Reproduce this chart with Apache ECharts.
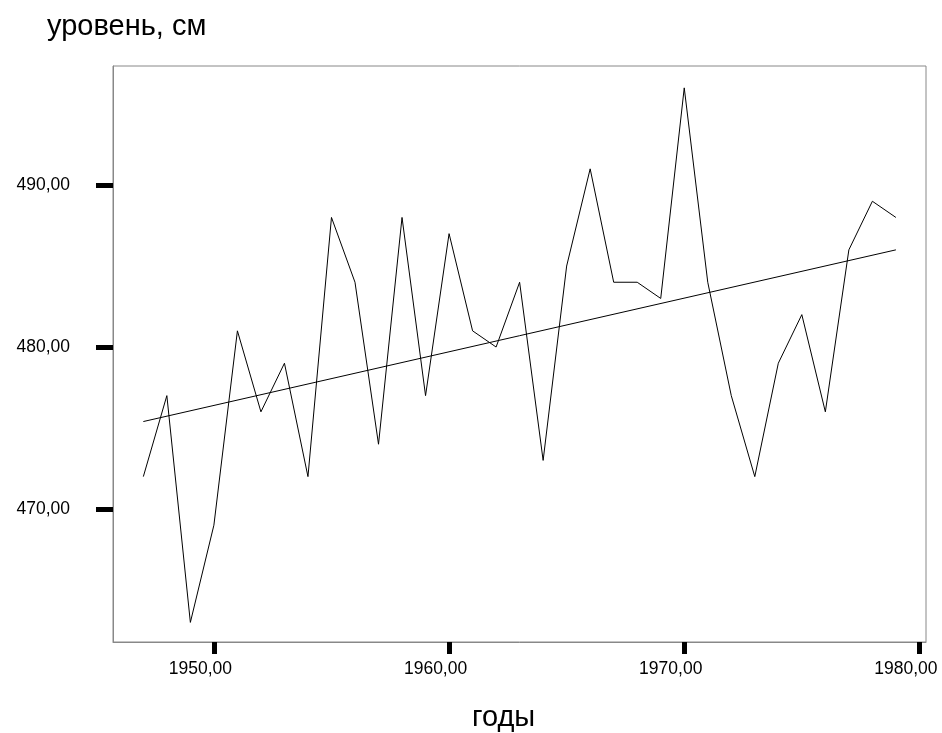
<!DOCTYPE html>
<html>
<head>
<meta charset="utf-8">
<script src="https://cdn.jsdelivr.net/npm/echarts@6/dist/echarts.min.js"></script>
<style>html,body{margin:0;padding:0;background:#fff;}#c{width:942px;height:733px;}</style>
</head>
<body>
<div id="c"></div>
<script>
var years = [1947,1948,1949,1950,1951,1952,1953,1954,1955,1956,1957,1958,1959,1960,1961,1962,1963,1964,1965,1966,1967,1968,1969,1970,1971,1972,1973,1974,1975,1976,1977,1978,1979];
var levels = [472,477,463,469,481,476,479,472,488,484,474,488,477,487,481,480,484,473,485,491,484,484,483,496,484,477,472,479,482,476,486,489,488];
var trendYears = [1947, 1979];
var trendValues = [475.4, 486.0];
var xTicks = [1950, 1960, 1970, 1980];
var yTicks = [470, 480, 490];
var titleText = 'уровень, см';
var xName = 'годы';

function fmt(v){ return v.toFixed(2).replace('.', ','); }

var chart = echarts.init(document.getElementById('c'), null, {renderer:'canvas'});
chart.setOption({
  animation: false,
  backgroundColor: '#fff',
  grid: {left: 113, top: 66, right: 16, bottom: 91, show: true, borderColor: '#888', borderWidth: 1, backgroundColor: 'transparent', outerBoundsMode: 'none', containLabel: false},
  graphic: [
    {type: 'text', left: 47, top: 12, style: {text: titleText, fontFamily: 'Liberation Sans, Arial', fontSize: 29, fill: '#000'}},
    {type: 'text', left: 472, top: 703, style: {text: xName, fontFamily: 'Liberation Sans, Arial', fontSize: 29, fill: '#000'}}
  ],
  xAxis: {
    type: 'value', min: 1945.71, max: 1980.28,
    splitLine: {show: false},
    axisLine: {show: true, lineStyle: {color: '#888', width: 1}},
    axisTick: {show: true, length: 12, customValues: xTicks, lineStyle: {color: '#000', width: 5}},
    axisLabel: {customValues: xTicks, formatter: fmt, margin: 18, padding: [0, 27, 0, 0], hideOverlap: false, fontFamily: 'Liberation Sans, Arial', fontSize: 17.5, color: '#000'}
  },
  yAxis: {
    type: 'value', min: 461.79, max: 497.35,
    splitLine: {show: false},
    axisLine: {show: true, lineStyle: {color: '#888', width: 1}},
    axisTick: {show: true, length: 17, customValues: yTicks, lineStyle: {color: '#000', width: 5}},
    axisLabel: {customValues: yTicks, formatter: fmt, margin: 43, fontFamily: 'Liberation Sans, Arial', fontSize: 17.5, color: '#000'}
  },
  series: [
    {type: 'line', data: years.map(function(y,i){return [y, levels[i]];}), showSymbol: false, lineStyle: {color: '#000', width: 1}, silent: true},
    {type: 'line', data: trendYears.map(function(y,i){return [y, trendValues[i]];}), showSymbol: false, lineStyle: {color: '#000', width: 1}, silent: true}
  ]
});
</script>
</body>
</html>
